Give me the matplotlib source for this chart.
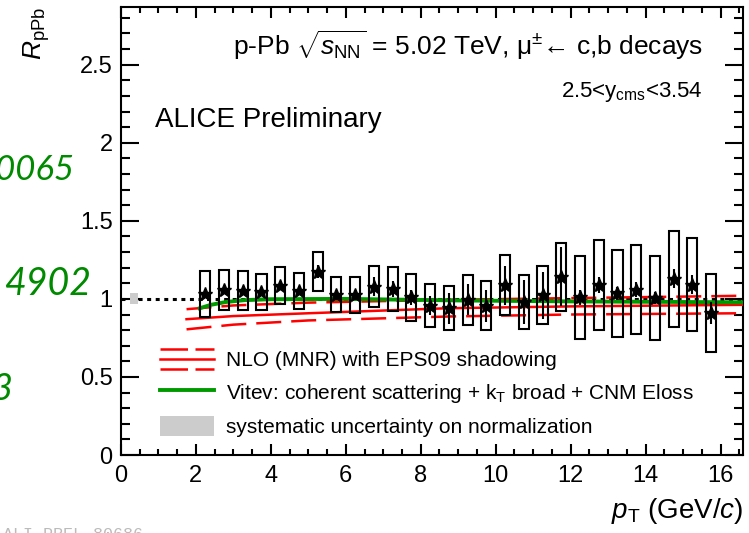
import matplotlib
matplotlib.use('Agg')
import matplotlib.pyplot as plt
from matplotlib.patches import Rectangle, Patch
from matplotlib.lines import Line2D
from matplotlib.legend_handler import HandlerBase
from matplotlib.ticker import MultipleLocator, FormatStrFormatter

plt.rcParams['font.family'] = ['Liberation Sans', 'DejaVu Sans']
plt.rcParams['mathtext.fontset'] = 'custom'
plt.rcParams['mathtext.rm'] = 'Liberation Sans'
plt.rcParams['mathtext.it'] = 'Liberation Sans:italic'
plt.rcParams['mathtext.bf'] = 'Liberation Sans:bold'

#---Data
pt = [2.25, 2.75, 3.25, 3.75, 4.25, 4.75, 5.25, 5.75, 6.25, 6.75,
      7.25, 7.75, 8.25, 8.75, 9.25, 9.75, 10.25, 10.75, 11.25, 11.75,
      12.25, 12.75, 13.25, 13.75, 14.25, 14.75, 15.25, 15.75]
rppb = [1.03, 1.058, 1.053, 1.043, 1.085, 1.051, 1.175, 1.026, 1.026, 1.079,
        1.064, 1.01, 0.957, 0.94, 0.994, 0.955, 1.088, 0.978, 1.022, 1.143,
        1.01, 1.09, 1.035, 1.06, 1.005, 1.13, 1.09, 0.91]
stat = [0.015, 0.015, 0.015, 0.02, 0.02, 0.025, 0.04, 0.03, 0.03, 0.06,
        0.05, 0.05, 0.06, 0.1, 0.1, 0.1, 0.125, 0.14, 0.15, 0.19,
        0.05, 0.05, 0.04, 0.05, 0.04, 0.06, 0.06, 0.07]
syst = [0.147, 0.128, 0.125, 0.115, 0.118, 0.118, 0.125, 0.112, 0.115, 0.13,
        0.142, 0.15, 0.14, 0.142, 0.16, 0.157, 0.19, 0.173, 0.186, 0.218,
        0.267, 0.29, 0.28, 0.287, 0.27, 0.308, 0.297, 0.252]

#---NLO (MNR) with EPS09 shadowing: upper, central, lower
nlo_pt = [1.75, 3.0, 5.0, 8.7, 12.0, 16.6]
nlo_up = [0.934, 0.958, 0.976, 0.994, 1.005, 1.02]
nlo_cen = [0.87, 0.89, 0.908, 0.94, 0.952, 0.962]
nlo_lo = [0.805, 0.835, 0.862, 0.887, 0.9, 0.908]

#---Vitev calculation
vit_pt = [2.1, 2.4, 2.8, 3.3, 4.0, 6.0, 9.0, 12.0, 16.6]
vit_r = [0.94, 0.962, 0.98, 0.992, 0.998, 1.0, 0.99, 0.984, 0.978]

norm_unc = 0.035


class NLOHandler(HandlerBase):
    def create_artists(self, legend, orig_handle, xdescent, ydescent,
                       width, height, fontsize, trans):
        out = []
        for frac, ls in [(1.0, (0, (11, 3))), (0.5, '-'), (0.0, (0, (11, 3)))]:
            y = frac * height - ydescent
            out.append(Line2D([-xdescent, width - xdescent], [y, y], color='red',
                              lw=1.8, linestyle=ls, transform=trans))
        return out


fig = plt.figure(figsize=(7.49, 5.33), dpi=100)
ax = fig.add_axes([0.1615, 0.1463, 0.8305, 0.8407])

ax.axhline(1, color='k', lw=2.2, linestyle=(0, (1.3, 1.5)), zorder=1)
ax.add_patch(Rectangle((0.25, 1 - norm_unc), 0.2, 2 * norm_unc, color='#cccccc', lw=0, zorder=2))

ax.plot(nlo_pt, nlo_up, color='red', lw=1.8, linestyle=(0, (10, 4)), zorder=3)
ax.plot(nlo_pt, nlo_cen, color='red', lw=1.8, zorder=3)
ax.plot(nlo_pt, nlo_lo, color='red', lw=1.8, linestyle=(0, (10, 4)), zorder=3)
ax.plot(vit_pt, vit_r, color='#009a00', lw=2.8, zorder=4)

for x, y, s in zip(pt, rppb, syst):
    ax.add_patch(Rectangle((x - 0.135, y - s), 0.27, 2 * s, fill=False,
                           ec='k', lw=1.5, zorder=5))
ax.errorbar(pt, rppb, yerr=stat, fmt='*', color='k', ms=10, elinewidth=1.5,
            capsize=0, zorder=6)

ax.set_xlim(0, 16.6)
ax.set_ylim(0, 2.87)
ax.xaxis.set_major_locator(MultipleLocator(2))
ax.xaxis.set_minor_locator(MultipleLocator(0.5))
ax.yaxis.set_major_locator(MultipleLocator(0.5))
ax.yaxis.set_minor_locator(MultipleLocator(0.1))
ax.xaxis.set_major_formatter(FormatStrFormatter('%g'))
ax.yaxis.set_major_formatter(FormatStrFormatter('%g'))
ax.tick_params(which='both', direction='in', top=True, right=True, width=1.5,
               labelsize=17)
ax.tick_params(axis='x', which='major', length=8, pad=7)
ax.tick_params(axis='x', which='minor', length=4.3)
ax.tick_params(axis='y', which='major', length=13, pad=6)
ax.tick_params(axis='y', which='minor', length=6.5)
for sp in ax.spines.values():
    sp.set_linewidth(1.5)

ax.set_xlabel(r'$p_{\rm T}$ (GeV/$c$)', fontsize=20, loc='right')
ax.xaxis.set_label_coords(1.0, -0.092)
ax.set_ylabel(r'$R_{\rm pPb}$', fontsize=19, loc='top')
ax.yaxis.set_label_coords(-0.111, 1.0)

ax.text(0.936, 0.893, r'p-Pb $\sqrt{s_{\rm NN}}$ = 5.02 TeV, μ$^{\pm}$← c,b decays',
        transform=ax.transAxes, ha='right', va='baseline', fontsize=19)
ax.text(0.936, 0.799, r'2.5<y$_{\rm cms}$<3.54', transform=ax.transAxes,
        ha='right', va='baseline', fontsize=16)
ax.text(0.055, 0.732, 'ALICE Preliminary', transform=ax.transAxes,
        ha='left', va='baseline', fontsize=20)

nlo_proxy = Line2D([], [], color='red')
handles = [nlo_proxy,
           Line2D([], [], color='#009a00', lw=2.8),
           Patch(color='#cccccc', lw=0)]
labels = ['NLO (MNR) with EPS09 shadowing',
          r'Vitev: coherent scattering + k$_{\rm T}$ broad + CNM Eloss',
          'systematic uncertainty on normalization']
ax.legend(handles, labels, handler_map={nlo_proxy: NLOHandler()},
          loc='upper left', bbox_to_anchor=(0.063, 0.236), frameon=False,
          fontsize=15, handlelength=2.6, handleheight=1.1, handletextpad=0.55,
          labelspacing=0.55, borderpad=0, borderaxespad=0)

#---slide fragments around the pasted figure
fig.text(0.1, 0.662, '90065', color='#008a00', fontsize=25, style='italic',
         family='Lato', ha='right', va='baseline')
fig.text(0.1228, 0.4465, '4902', color='#008a00', fontsize=27, style='italic',
         family='Lato', ha='right', va='baseline')
fig.text(0.016, 0.2495, '3', color='#008a00', fontsize=26, style='italic',
         family='Lato', ha='right', va='baseline')
fig.text(0.004, 0.0113, 'ALI-PREL-80686', color='#bbbbbb', fontsize=12,
         family='Liberation Mono', ha='left', va='top')

fig.savefig('out.png', dpi=100)
